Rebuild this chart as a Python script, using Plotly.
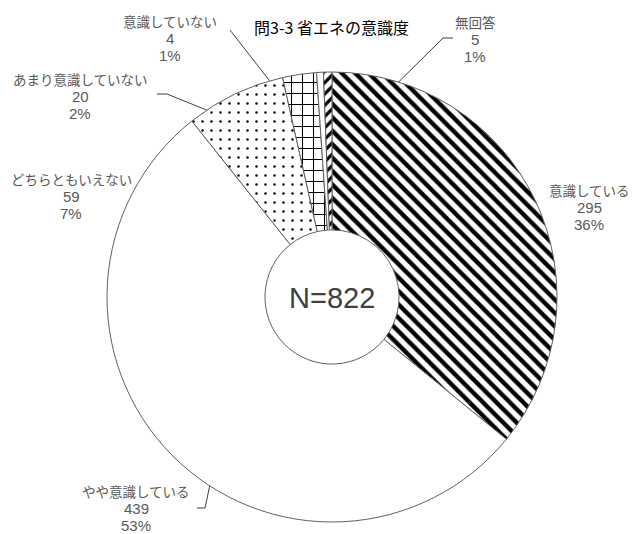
import numpy as np
import plotly.graph_objects as go

# data (clockwise from 12 o'clock)
labels = ["意識している", "やや意識している", "どちらともいえない", "あまり意識していない", "意識していない", "無回答"]
values = [295, 439, 59, 20, 4, 5]
pct_labels = ["36%", "53%", "7%", "2%", "1%", "1%"]
patterns = ["\\", "", ".", "+", "", "/"]
total = sum(values)

W, H = 634, 534
cx, cy, R = 332, 297, 225   # pie centre / radius in px
LINE = 17.5                 # label line spacing

# label text centre (middle line) and leader elbow (px); None = no leader
label_pos = {
    "意識している": (589, 207, None),
    "やや意識している": (136, 508, [(197, 508), (205, 508)]),
    "どちらともいえない": (71, 196, [(137, 195), (145, 195)]),
    "あまり意識していない": (80, 96, [(157, 94), (167, 94)]),
    "意識していない": (170, 38, [(230, 30)]),
    "無回答": (475, 39, [(453, 38), (443, 38)]),
}

fig = go.Figure()
fig.add_trace(go.Pie(
    labels=labels, values=values, sort=False, direction="clockwise", rotation=0,
    hole=0.298, textinfo="none", hoverinfo="label+value+percent",
    marker=dict(colors=["white"] * len(values),
                line=dict(color="#606060", width=1),
                pattern=dict(shape=patterns, fgcolor="black", bgcolor="white",
                             size=[9.5, 8, 9, 11, 8, 8],
                             solidity=[0.45, 0.1, 0.06, 0.18, 0.1, 0.4])),
    domain=dict(x=[(cx - R) / W, (cx + R) / W], y=[1 - (cy + R) / H, 1 - (cy - R) / H]),
    showlegend=False,
))

# invisible pixel axes for leader lines and labels
fig.add_trace(go.Scatter(x=[0, W], y=[0, H], mode="markers", marker=dict(opacity=0),
                         hoverinfo="skip", showlegend=False))

jp_font = dict(size=13.5, color="#595959", family="Noto Sans CJK JP")
num_font = dict(size=15, color="#595959", family="Liberation Sans")

cum = np.cumsum([0] + values[:-1])
for lab, v, c, pct in zip(labels, values, cum, pct_labels):
    ang = np.deg2rad(360 * (c + v / 2) / total)
    ex, ey = cx + 0.65 * R * np.sin(ang), cy - 0.65 * R * np.cos(ang)
    tx, ty, pts = label_pos[lab]
    if pts:
        xs = [p[0] for p in pts] + [ex]
        ys = [p[1] for p in pts] + [ey]
        fig.add_trace(go.Scatter(x=xs, y=ys, mode="lines", line=dict(color="#404040", width=1),
                                 hoverinfo="skip", showlegend=False))
    fig.add_annotation(x=tx, y=ty - LINE, text=lab, showarrow=False, font=jp_font)
    fig.add_annotation(x=tx, y=ty, text=str(v), showarrow=False, font=num_font)
    fig.add_annotation(x=tx, y=ty + LINE, text=pct, showarrow=False, font=num_font)

fig.add_annotation(x=cx, y=cy + 1, text=f"N={total}", showarrow=False,
                   font=dict(size=29, color="#404040", family="Liberation Sans"))
fig.add_annotation(x=331, y=27, text="問3-3 省エネの意識度", showarrow=False,
                   font=dict(size=16, color="black", family="Noto Sans CJK JP"))

fig.update_layout(
    width=W, height=H, margin=dict(l=0, r=0, t=0, b=0),
    paper_bgcolor="white", plot_bgcolor="rgba(0,0,0,0)",
    xaxis=dict(range=[0, W], visible=False, fixedrange=True),
    yaxis=dict(range=[H, 0], visible=False, fixedrange=True),
)

# page has a default body margin; drop it so the figure sits at the window corner
fig.write_html("out.html", config={"displayModeBar": False},
               post_script="document.body.style.margin='0';")
